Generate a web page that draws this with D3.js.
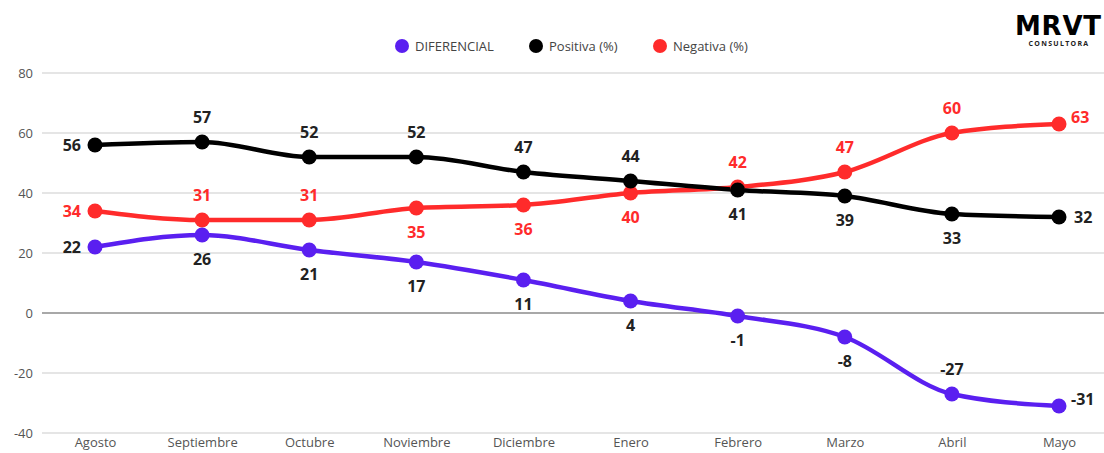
<!DOCTYPE html>
<html>
<head>
<meta charset="utf-8">
<script src="https://cdn.jsdelivr.net/npm/d3@7"></script>
<style>
  body { margin: 0; background: #fff; }
  text { font-family: "Open Sans", "Noto Sans", sans-serif; }
</style>
</head>
<body>
<div id="wrapper"></div>
<script>
const months = ["Agosto", "Septiembre", "Octubre", "Noviembre", "Diciembre", "Enero", "Febrero", "Marzo", "Abril", "Mayo"];
const diferencial = [22, 26, 21, 17, 11, 4, -1, -8, -27, -31];
const positiva = [56, 57, 52, 52, 47, 44, 41, 39, 33, 32];
const negativa = [34, 31, 31, 35, 36, 40, 42, 47, 60, 63];
const yTicks = [80, 60, 40, 20, 0, -20, -40];

// where each value label sits: l = left, r = right, a = above, b = below
const posPlace = ["l", "a", "a", "a", "a", "a", "b", "b", "b", "r"];
const negPlace = ["l", "a", "a", "b", "b", "b", "a", "a", "a", "ar"];
const difPlace = ["l", "b", "b", "b", "b", "b", "b", "b", "a", "ar"];

const series = [
  {name: "DIFERENCIAL", values: diferencial, color: "#5a1ff0", place: difPlace, labelColor: "#222"},
  {name: "Positiva (%)", values: positiva, color: "#000000", place: posPlace, labelColor: "#222"},
  {name: "Negativa (%)", values: negativa, color: "#ff2b2b", place: negPlace, labelColor: "#ff2b2b"}
];

const dimension = {width: 1104, height: 453, margin: {top: 73, left: 42, bottom: 20, right: 0}};

const svg = d3.select("#wrapper").append("svg")
  .attr("width", dimension.width)
  .attr("height", dimension.height);

const xScaler = d3.scalePoint()
  .domain(months)
  .range([95, 1059]);

const yScaler = d3.scaleLinear()
  .domain([-40, 80])
  .range([433, 73]);

// grid lines
svg.append("g").selectAll("line")
  .data(yTicks)
  .join("line")
  .attr("x1", dimension.margin.left)
  .attr("x2", dimension.width)
  .attr("y1", d => yScaler(d))
  .attr("y2", d => yScaler(d))
  .attr("stroke", d => d === 0 ? "#a8a8a8" : "#dcdcdc")
  .attr("stroke-width", d => d === 0 ? 2 : 1.5);

// y axis labels
const yAxis = svg.append("g")
  .attr("transform", "translate(33,0)")
  .call(d3.axisLeft(yScaler).tickValues(yTicks).tickFormat(d => String(d)).tickSize(0).tickPadding(0));
yAxis.select(".domain").remove();
yAxis.selectAll("text")
  .attr("font-size", 13)
  .attr("fill", "#555")
  .style("font-family", "'Open Sans', sans-serif");

// x axis labels
const xAxis = svg.append("g")
  .attr("transform", "translate(0,438)")
  .call(d3.axisBottom(xScaler).tickSize(0).tickPadding(0));
xAxis.select(".domain").remove();
xAxis.selectAll("text")
  .attr("font-size", 13)
  .attr("fill", "#555")
  .style("font-family", "'Open Sans', sans-serif");

const line = d3.line()
  .x((d, i) => xScaler(months[i]))
  .y(d => yScaler(d))
  .curve(d3.curveMonotoneX);

// black drawn last, it sits over red at the crossing
const drawOrder = [series[2], series[0], series[1]];

drawOrder.forEach(s => {
  svg.append("path")
    .attr("fill", "none")
    .attr("stroke", s.color)
    .attr("stroke-width", 4.5)
    .attr("stroke-linecap", "round")
    .attr("d", line(s.values));
});

drawOrder.forEach(s => {
  svg.append("g").selectAll("circle")
    .data(s.values)
    .join("circle")
    .attr("cx", (d, i) => xScaler(months[i]))
    .attr("cy", d => yScaler(d))
    .attr("r", 7.5)
    .attr("fill", s.color);
});

// value labels
series.forEach(s => {
  svg.append("g").selectAll("text")
    .data(s.values)
    .join("text")
    .attr("x", (d, i) => {
      const p = s.place[i], x = xScaler(months[i]);
      if (p === "l") return x - 14;
      if (p === "r") return x + 15;
      if (p === "ar") return x + 12;
      return x;
    })
    .attr("y", (d, i) => {
      const p = s.place[i], y = yScaler(d);
      if (p === "a") return y - 19;
      if (p === "b") return y + 30;
      if (p === "ar") return y - 1;
      return y + 6;
    })
    .attr("text-anchor", (d, i) => {
      const p = s.place[i];
      if (p === "l") return "end";
      if (p === "r" || p === "ar") return "start";
      return "middle";
    })
    .attr("font-size", 16)
    .attr("font-weight", 700)
    .attr("fill", s.labelColor)
    .text(d => d);
});

// legend
const legendX = [402, 536, 660];
const legend = svg.append("g");
series.forEach((s, i) => {
  legend.append("circle")
    .attr("cx", legendX[i])
    .attr("cy", 46)
    .attr("r", 7)
    .attr("fill", s.color);
  legend.append("text")
    .attr("x", legendX[i] + 13)
    .attr("y", 51)
    .attr("font-size", 13)
    .attr("fill", "#444")
    .text(s.name);
});

// logo
svg.append("text")
  .attr("x", 1058)
  .attr("y", 35)
  .attr("text-anchor", "middle")
  .attr("font-size", 26)
  .attr("font-weight", 900)
  .attr("fill", "#000")
  .style("font-family", "'DejaVu Sans', sans-serif")
  .attr("textLength", 86)
  .text("MRVT");
svg.append("text")
  .attr("x", 1059)
  .attr("y", 46)
  .attr("text-anchor", "middle")
  .attr("font-size", 7)
  .attr("font-weight", 700)
  .attr("fill", "#222")
  .attr("letter-spacing", 1.3)
  .text("CONSULTORA");
</script>
</body>
</html>
